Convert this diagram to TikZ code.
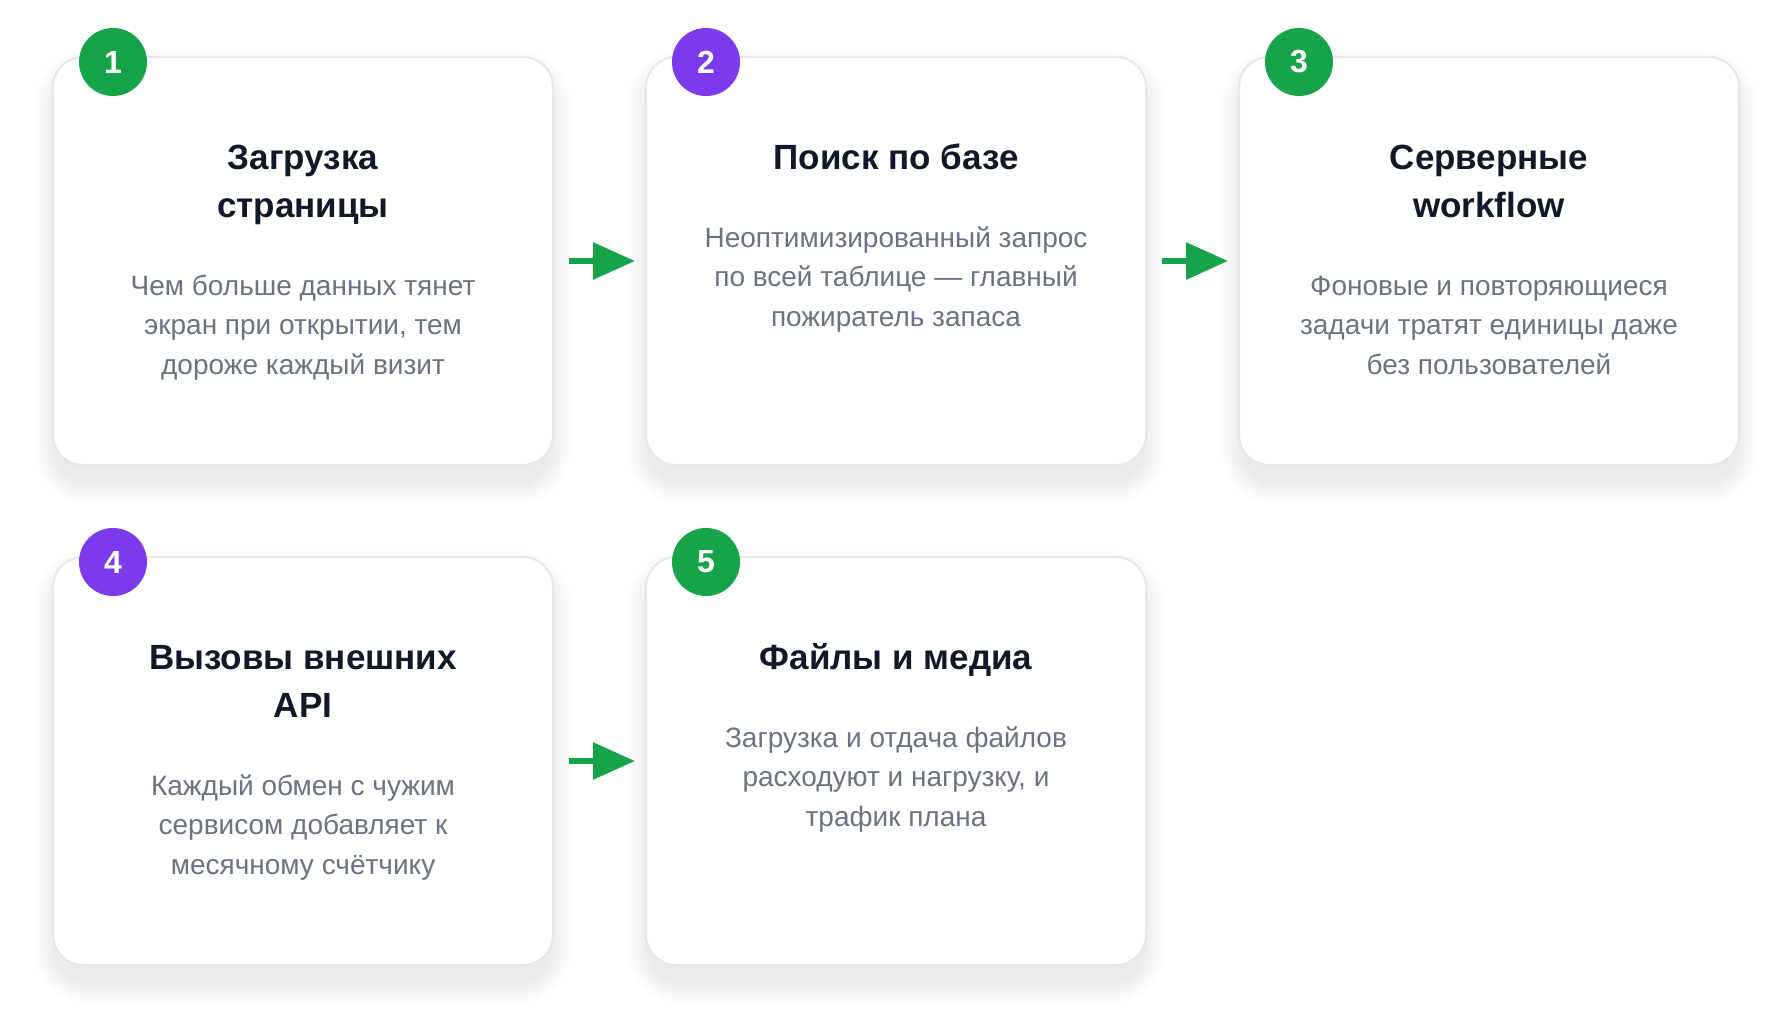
\documentclass[tikz,border=0pt]{standalone}
\usepackage{fontspec}
\setmainfont{Liberation Sans}
\usetikzlibrary{arrows.meta}
\definecolor{cgreen}{HTML}{16A34A}
\definecolor{cpurple}{HTML}{7C3AED}
\definecolor{ctitle}{HTML}{111827}
\definecolor{cbody}{HTML}{6B7280}
\definecolor{cborder}{HTML}{E5E7EB}
\definecolor{cshadow}{HTML}{1E2340}
\newcommand\mkshadow[2]{%
  \foreach \i in {1,...,10}{%
    \pgfmathsetmacro\rr{30+\i*2.2}%
    \fill[cshadow,opacity=0.0065,rounded corners=\rr pt]
      (#1+4-\i*2.2,#2+16-\i*2.2) rectangle (#1+496+\i*2.2,#2+424+\i*2.2);
  }}
\begin{document}
\begin{tikzpicture}[x=1pt,y=-1pt,
  card/.style={draw=cborder,line width=2pt,fill=white,rounded corners=30pt,
    minimum width=500pt,minimum height=408pt,inner sep=0pt,outer sep=0pt},
  badge/.style={circle,fill=#1,minimum size=68pt,inner sep=0pt,text=white,
    font=\fontsize{32}{32}\selectfont\bfseries},
  ttl/.style={anchor=base,inner sep=0pt,text=ctitle,font=\fontsize{35}{48}\selectfont\bfseries},
  bdy/.style={anchor=base,inner sep=0pt,text=cbody,font=\fontsize{28}{40}\selectfont},
  arr/.style={draw=cgreen,line width=6pt,-{Triangle[length=42pt,width=36pt]},
    shorten <=16pt,shorten >=11pt}]
\useasboundingbox (0,0) rectangle (1790,1025);
\fill[white] (0,0) rectangle (1790,1025);
% shadows
\mkshadow{53}{57}
\mkshadow{646}{57}
\mkshadow{1239}{57}
\mkshadow{53}{557}
\mkshadow{646}{557}
% cards
\node[card] (c1) at (303,261) {};
\node[card] (c2) at (896,261) {};
\node[card] (c3) at (1489,261) {};
\node[card] (c4) at (303,761) {};
\node[card] (c5) at (896,761) {};
% arrows
\draw[arr] (c1) -- (c2);
\draw[arr] (c2) -- (c3);
\draw[arr] (c4) -- (c5);
% badges
\node[badge=cgreen] (n1) at (113,62) {1};
\node[badge=cpurple] (n2) at (706,62) {2};
\node[badge=cgreen] (n3) at (1299,62) {3};
\node[badge=cpurple] (n4) at (113,562) {4};
\node[badge=cgreen] (n5) at (706,562) {5};
% card 1
\node[ttl] (t1a) at (303,169) {Загрузка};
\node[ttl] (t1b) at (303,217) {страницы};
\node[bdy] (b1a) at (303,295) {Чем больше данных тянет};
\node[bdy] (b1b) at (303,334.5) {экран при открытии, тем};
\node[bdy] (b1c) at (303,374) {дороже каждый визит};
% card 2
\node[ttl] (t2a) at (896,169) {Поиск по базе};
\node[bdy] (b2a) at (896,247) {Неоптимизированный запрос};
\node[bdy] (b2b) at (896,286.5) {по всей таблице — главный};
\node[bdy] (b2c) at (896,326) {пожиратель запаса};
% card 3
\node[ttl] (t3a) at (1489,169) {Серверные};
\node[ttl] (t3b) at (1489,217) {workflow};
\node[bdy] (b3a) at (1489,295) {Фоновые и повторяющиеся};
\node[bdy] (b3b) at (1489,334.5) {задачи тратят единицы даже};
\node[bdy] (b3c) at (1489,374) {без пользователей};
% card 4
\node[ttl] (t4a) at (303,669) {Вызовы внешних};
\node[ttl] (t4b) at (303,717) {API};
\node[bdy] (b4a) at (303,795) {Каждый обмен с чужим};
\node[bdy] (b4b) at (303,834.5) {сервисом добавляет к};
\node[bdy] (b4c) at (303,874) {месячному счётчику};
% card 5
\node[ttl] (t5a) at (896,669) {Файлы и медиа};
\node[bdy] (b5a) at (896,747) {Загрузка и отдача файлов};
\node[bdy] (b5b) at (896,786.5) {расходуют и нагрузку, и};
\node[bdy] (b5c) at (896,826) {трафик плана};
\end{tikzpicture}
\end{document}
